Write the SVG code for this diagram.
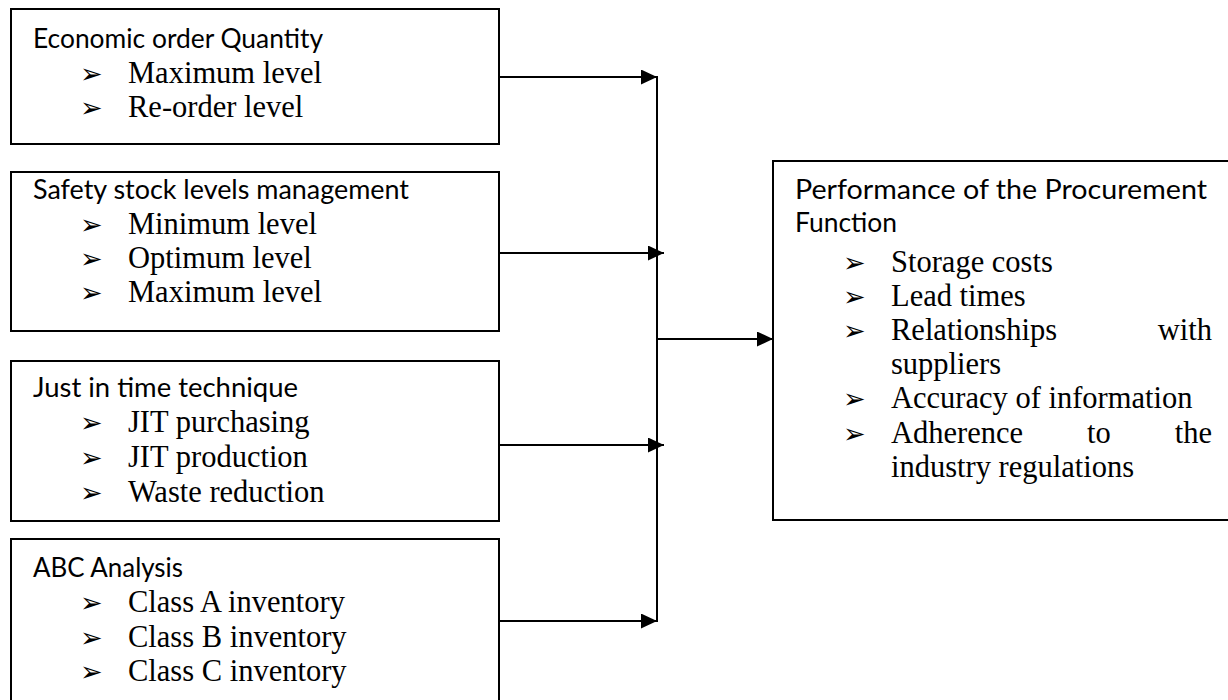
<svg xmlns="http://www.w3.org/2000/svg" width="1228" height="700" viewBox="0 0 1228 700">
<style>
.box{fill:#fff;stroke:#000;stroke-width:2}
.h{font-family:Lato,"Liberation Sans",sans-serif;font-size:27px;fill:#000}
.b{font-family:"Liberation Serif",serif;font-size:30.5px;fill:#000}
.g{font-family:"DejaVu Sans",sans-serif;font-size:27px;fill:#000}
.c{stroke:#000;stroke-width:2;fill:none}
</style>
<defs>
<marker id="ah" markerUnits="userSpaceOnUse" markerWidth="16" markerHeight="15" refX="16" refY="7.5" orient="auto">
<path d="M0,0 L16,7.5 L0,15 z" fill="#000"/>
</marker>
</defs>
<rect width="1228" height="700" fill="#fff"/>
<g id="eoq">
<rect class="box" x="11" y="9" width="488" height="135"/>
<text class="h" x="33" y="48" textLength="290" lengthAdjust="spacingAndGlyphs">Economic order Quantity</text>
<text class="g" x="80" y="83">➢</text><text class="b" x="128" y="83">Maximum level</text>
<text class="g" x="80" y="117">➢</text><text class="b" x="128" y="117">Re-order level</text>
</g>
<g id="safety">
<rect class="box" x="11" y="172" width="488" height="159"/>
<text class="h" x="33" y="199" textLength="376" lengthAdjust="spacingAndGlyphs">Safety stock levels management</text>
<text class="g" x="80" y="234">➢</text><text class="b" x="128" y="234">Minimum level</text>
<text class="g" x="80" y="268">➢</text><text class="b" x="128" y="268">Optimum level</text>
<text class="g" x="80" y="302">➢</text><text class="b" x="128" y="302">Maximum level</text>
</g>
<g id="jit">
<rect class="box" x="11" y="361" width="488" height="160"/>
<text class="h" x="33" y="397" textLength="265" lengthAdjust="spacingAndGlyphs">Just in time technique</text>
<text class="g" x="80" y="432">➢</text><text class="b" x="128" y="432">JIT purchasing</text>
<text class="g" x="80" y="467">➢</text><text class="b" x="128" y="467">JIT production</text>
<text class="g" x="80" y="502">➢</text><text class="b" x="128" y="502">Waste reduction</text>
</g>
<g id="abc">
<rect class="box" x="11" y="539" width="488" height="175"/>
<text class="h" x="33" y="577" textLength="150" lengthAdjust="spacingAndGlyphs">ABC Analysis</text>
<text class="g" x="80" y="612">➢</text><text class="b" x="128" y="612">Class A inventory</text>
<text class="g" x="80" y="647">➢</text><text class="b" x="128" y="647">Class B inventory</text>
<text class="g" x="80" y="681">➢</text><text class="b" x="128" y="681">Class C inventory</text>
</g>
<g id="performance">
<rect class="box" x="773" y="161" width="470" height="359"/>
<text class="h" x="795" y="199" textLength="412" lengthAdjust="spacingAndGlyphs">Performance of the Procurement</text>
<text class="h" x="795" y="232" textLength="102" lengthAdjust="spacingAndGlyphs">Function</text>
<text class="g" x="843" y="272">➢</text><text class="b" x="891" y="272">Storage costs</text>
<text class="g" x="843" y="306">➢</text><text class="b" x="891" y="306">Lead times</text>
<text class="g" x="843" y="340">➢</text><text class="b" x="891" y="340">Relationships</text><text class="b" x="1212" y="340" text-anchor="end">with</text>
<text class="b" x="891" y="374">suppliers</text>
<text class="g" x="843" y="408">➢</text><text class="b" x="891" y="408">Accuracy of information</text>
<text class="g" x="843" y="443">➢</text><text class="b" x="891" y="443">Adherence</text><text class="b" x="1087" y="443">to</text><text class="b" x="1212" y="443" text-anchor="end">the</text>
<text class="b" x="891" y="477">industry regulations</text>
</g>
<g id="connectors">
<line class="c" x1="499" y1="77" x2="657" y2="77" marker-end="url(#ah)"/>
<line class="c" x1="499" y1="253" x2="664" y2="253" marker-end="url(#ah)"/>
<line class="c" x1="499" y1="445" x2="664" y2="445" marker-end="url(#ah)"/>
<line class="c" x1="499" y1="621" x2="657" y2="621" marker-end="url(#ah)"/>
<line class="c" x1="657" y1="76" x2="657" y2="622"/>
<line class="c" x1="657" y1="339" x2="773" y2="339" marker-end="url(#ah)"/>
</g>
</svg>
